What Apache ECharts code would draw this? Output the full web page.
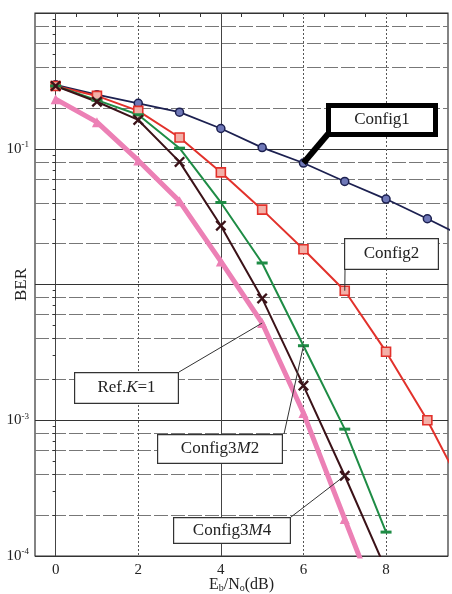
<!DOCTYPE html>
<html>
<head>
<meta charset="utf-8">
<script src="https://cdn.jsdelivr.net/npm/echarts@6/dist/echarts.min.js"></script>
<style>
  html, body { margin: 0; padding: 0; background: #fff; }
  #chart { width: 452px; height: 594px; }
</style>
</head>
<body>
<div id="chart"></div>
<script>
// Eb/No (dB) sample points
const ebno = [0, 1, 2, 3, 4, 5, 6, 7, 8, 9, 10]

// BER values
const config1 = [0.296, 0.25, 0.216, 0.186, 0.141, 0.102, 0.0785, 0.0574, 0.0426, 0.0305, 0.0215]
const config2 = [0.29, 0.245, 0.19, 0.121, 0.067, 0.0356, 0.0182, 0.009, 0.0032, 0.001, 0.00026]
const config3M2 = [0.29, 0.228, 0.178, 0.101, 0.0402, 0.0144, 0.00354, 0.00086, 0.00015]
const config3M4 = [0.29, 0.222, 0.163, 0.08, 0.0271, 0.0079, 0.0018, 0.00039, 0.000079]
const refK1 = [0.232, 0.157, 0.082, 0.041, 0.0148, 0.0052, 0.00113, 0.000187, 0.000031]

// axis ticks
const xLabelTicks = [0, 2, 4, 6, 8]
const xSolidGrid = [0, 4]
const xDottedGrid = [2, 6, 8]
const xTopTicks = [0.5, 1.5, 2.5, 3.5, 4.5, 5.5, 6.5, 7.5, 8.5]
const yLabelExps = [-1, -3, -4]
const decades = [-4, -3, -2, -1]
const minorMults = [2, 3, 4, 5, 6, 7, 8, 9]
const gridMults = [2, 4, 6, 8]

const serif = 'Liberation Serif'

const logPos = (mults) => {
  const out = []
  decades.forEach(d => mults.forEach(m => out.push(d + Math.log10(m))))
  return out
}

const pairs = (ys) => ys.map((v, i) => [ebno[i], v])

const chart = echarts.init(document.getElementById('chart'))

const lineSeries = (name, data, color, width, symbol, size, extra) => Object.assign({
  name: name,
  type: 'line',
  data: pairs(data),
  symbol: symbol,
  symbolSize: size,
  showAllSymbol: true,
  lineStyle: { color: color, width: width },
  itemStyle: { color: color },
  clip: true,
  z: 3
}, extra || {})

const xMark = 'path://M0,1.5L1.5,0L5,3.5L8.5,0L10,1.5L6.5,5L10,8.5L8.5,10L5,6.5L1.5,10L0,8.5L3.5,5Z'

chart.setOption({
  animation: false,
  backgroundColor: '#fff',
  grid: {
    left: 35, top: 13, right: 4, bottom: 38,
    outerBoundsMode: 'none', containLabel: false,
    show: true, borderColor: '#333', borderWidth: 1.2
  },
  xAxis: [
    {
      type: 'value', position: 'bottom', min: -0.5, max: 9.5,
      name: 'E{sub|b}/N{sub|o}(dB)', nameLocation: 'middle', nameGap: 21, nameMoveOverlap: false,
      nameTextStyle: {
        fontFamily: serif, fontSize: 16, color: '#222',
        rich: { sub: { fontFamily: serif, fontSize: 10, color: '#222', verticalAlign: 'bottom', padding: [6, 0, 0, 0] } }
      },
      axisLine: { show: false },
      axisTick: { show: false, customValues: xSolidGrid },
      axisLabel: { customValues: xLabelTicks, margin: 7, fontFamily: serif, fontSize: 15, color: '#222' },
      splitLine: { show: true, lineStyle: { color: '#444', width: 1 } }
    },
    {
      type: 'value', position: 'top', min: -0.5, max: 9.5,
      axisLine: { show: false },
      axisTick: { show: true, inside: true, length: 4, customValues: xTopTicks, lineStyle: { color: '#333' } },
      axisLabel: { show: false },
      splitLine: { show: false }
    },
    {
      type: 'value', position: 'bottom', min: -0.5, max: 9.5,
      axisLine: { show: false },
      axisTick: { show: false, customValues: xDottedGrid },
      axisLabel: { show: false },
      splitLine: { show: true, lineStyle: { color: '#555', width: 1, type: [2, 2] } }
    }
  ],
  yAxis: [
    {
      type: 'log', logBase: 10, min: 1e-4, max: 1, position: 'left',
      name: 'BER', nameLocation: 'middle', nameGap: 5, nameMoveOverlap: false,
      nameTextStyle: { fontFamily: serif, fontSize: 17, color: '#222' },
      axisLine: { show: false },
      axisTick: { show: false },
      axisLabel: {
        margin: 6,
        formatter: (v) => {
          const e = Math.round(Math.log10(v))
          return yLabelExps.includes(e) ? '{b|10}{s|' + e + '}' : ''
        },
        rich: {
          b: { fontFamily: serif, fontSize: 15, color: '#222' },
          s: { fontFamily: serif, fontSize: 9, color: '#222', verticalAlign: 'top', padding: [0, 0, 8, 0] }
        }
      },
      splitLine: { show: true, lineStyle: { color: '#333', width: 1.2 } }
    },
    {
      type: 'value', min: -4, max: 0, position: 'left',
      axisLine: { show: false },
      axisTick: { show: true, inside: false, length: 3, customValues: logPos(minorMults), lineStyle: { color: '#333' } },
      axisLabel: { show: false },
      splitLine: { show: false }
    },
    {
      type: 'value', min: -4, max: 0, position: 'left',
      axisLine: { show: false },
      axisTick: { show: false, customValues: logPos(gridMults) },
      axisLabel: { show: false },
      splitLine: { show: true, lineStyle: { color: '#777', width: 1, type: [14, 3] } }
    }
  ],
  series: [
    lineSeries('Config1', config1, '#1c2050', 1.8, 'circle', 8, {
      itemStyle: { color: '#6f78b8', borderColor: '#1c2050', borderWidth: 1.5 }
    }),
    lineSeries('Config2', config2, '#e2312b', 2, 'rect', 9, {
      itemStyle: { color: '#f3b0a8', borderColor: '#e2312b', borderWidth: 1.6 }
    }),
    lineSeries('Config3M2', config3M2, '#1e8c45', 2, 'rect', [11, 3]),
    lineSeries('Config3M4', config3M4, '#3b1218', 2, xMark, 11),
    lineSeries('Ref.K=1', refK1, '#ec80b5', 5, 'triangle', 10)
  ]
})

// annotation boxes with leader lines to data points
const px = (si, i, data) => chart.convertToPixel({ seriesIndex: si }, [ebno[i], data[i]])

const textStyle = (txt) => ({
  text: txt,
  font: '17px "' + serif + '"',
  fill: '#222',
  align: 'center',
  verticalAlign: 'middle',
  rich: { i: { fontStyle: 'italic', fontFamily: serif, fontSize: 17, fill: '#222' } }
})

const box = (x0, y0, x1, y1, txt, lw) => [
  {
    type: 'rect', z: 100,
    shape: { x: x0 + lw / 2, y: y0 + lw / 2, width: x1 - x0 - lw, height: y1 - y0 - lw },
    style: { fill: '#fff', stroke: lw > 2 ? '#000' : '#333', lineWidth: lw }
  },
  {
    type: 'text', z: 101,
    x: (x0 + x1) / 2, y: (y0 + y1) / 2,
    style: textStyle(txt)
  }
]

const leader = (from, to, lw) => ({
  type: 'line', z: 99,
  shape: { x1: from[0], y1: from[1], x2: to[0], y2: to[1] },
  style: { stroke: lw > 2 ? '#000' : '#333', lineWidth: lw }
})

const p1 = px(0, 6, config1)
const p2 = px(1, 7, config2)
const pRef = px(4, 5, refK1)
const pM2 = px(2, 6, config3M2)
const pM4 = px(3, 7, config3M4)

chart.setOption({
  graphic: [
    leader([328, 134], p1, 6),
    ...box(326, 103, 438, 137, 'Config1', 5),
    leader([345, 270], p2, 1),
    ...box(344, 238, 439, 270, 'Config2', 1.2),
    leader([179, 372], pRef, 1),
    ...box(74, 372, 179, 404, 'Ref.{i|K}=1', 1.2),
    leader([284, 434], pM2, 1),
    ...box(157, 434, 283, 464, 'Config3{i|M}2', 1.2),
    leader([291, 517], pM4, 1),
    ...box(173, 517, 291, 544, 'Config3{i|M}4', 1.2)
  ]
})
</script>
</body>
</html>
